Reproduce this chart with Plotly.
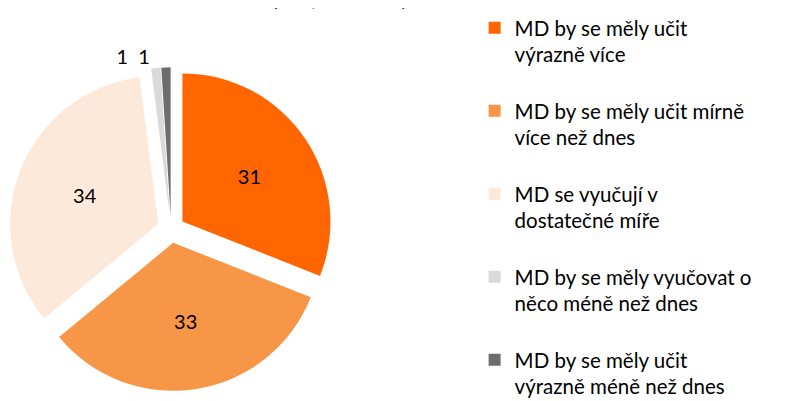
import plotly.graph_objects as go

categories = [
    "MD by se měly učit<br>výrazně více",
    "MD by se měly učit mírně<br>více než dnes",
    "MD se vyučují v<br>dostatečné míře",
    "MD by se měly vyučovat o<br>něco méně než dnes",
    "MD by se měly učit<br>výrazně méně než dnes",
]
values = [31, 33, 34, 1, 1]
colors = ["#FF6600", "#F79646", "#FDE9D9", "#D9D9D9", "#6D6D6D"]
title_text = "(v %; N = 300)"

FONT = "Lato, 'Open Sans', sans-serif"

# blank trailing line gives the gap between legend entries
legend_labels = [c + "<br> " for c in categories[:-1]] + [categories[-1]]
# the two tiny slices share one outside label, as in the original
slice_text = [str(v) for v in values[:3]] + [f"{values[3]}\u2002{values[4]}", ""]
text_pos = ["inside", "inside", "inside", "outside", "none"]

fig = go.Figure(
    go.Pie(
        labels=legend_labels,
        values=values,
        text=slice_text,
        textinfo="text",
        textposition=text_pos,
        insidetextorientation="horizontal",
        sort=False,
        direction="clockwise",
        rotation=0,
        pull=[0.093] * len(values),
        marker=dict(colors=colors, line=dict(width=0)),
        textfont=dict(family=FONT, size=20, color="#000000"),
        domain=dict(x=[0.0015, 0.4066], y=[0.045, 0.852]),
        automargin=False,
        hoverinfo="label+value",
    )
)

fig.update_layout(
    width=799, height=401,
    margin=dict(l=0, r=0, t=0, b=0),
    paper_bgcolor="white", plot_bgcolor="white",
    font=dict(family=FONT, color="#000000"),
    title=dict(
        text=title_text, xref="container", yref="container",
        x=0.415, xanchor="center", y=1.0, yanchor="bottom",
        pad=dict(b=2, t=0, l=0, r=0),
        font=dict(family=FONT, size=22, color="#000000"),
    ),
    legend=dict(
        x=0.584, y=1.0, xanchor="left", yanchor="top",
        valign="top",
        font=dict(family=FONT, size=20.5, color="#000000"),
        bgcolor="rgba(0,0,0,0)",
    ),
    showlegend=True,
)

fig.write_html("out.html")
